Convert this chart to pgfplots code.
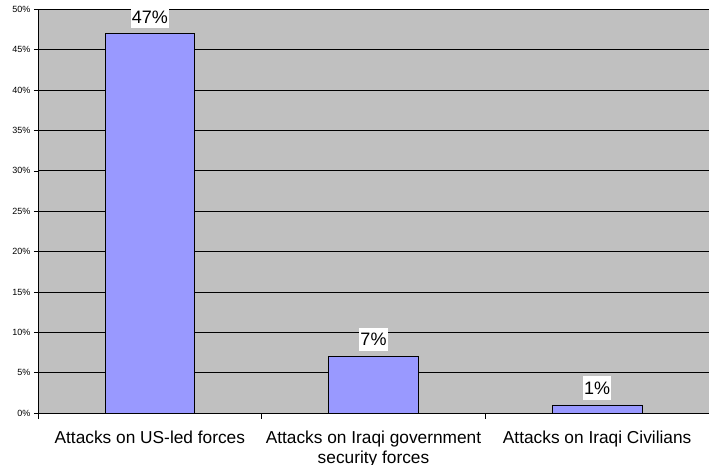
\documentclass[border=0pt]{standalone}
\usepackage{fontspec}
\setmainfont{Liberation Sans}
\usepackage{pgfplots}
\pgfplotsset{compat=1.18}
\definecolor{barblue}{HTML}{9999FF}
\definecolor{plotgray}{HTML}{C0C0C0}
\begin{document}
\begin{tikzpicture}
\begin{axis}[
  scale only axis, width=671bp, height=403.5bp,
  xmin=-0.5, xmax=2.5, ymin=0, ymax=50,
  axis background/.style={fill=plotgray},
  axis x line*=bottom, axis y line*=left,
  axis line style={black, line width=0.75bp, -},
  ybar, bar width=0.4,
  /pgf/number format/assume math mode=true,
  ytick={0,5,...,50},
  yticklabel={\pgfmathprintnumber{\tick}\%},
  yticklabel style={font=\fontsize{9bp}{10bp}\selectfont},
  ymajorgrids, grid style={black, line width=0.8bp},
  tick align=outside, major tick length=4bp, minor tick length=6bp,
  tick style={black, line width=0.75bp},
  xtick={0,1,2},
  major x tick style={draw=none},
  minor xtick={-0.5,0.5,1.5,2.5},
  xticklabels={Attacks on US-led forces, {Attacks on Iraqi government\\security forces}, Attacks on Iraqi Civilians},
  xticklabel style={align=center, inner sep=0pt, anchor=north, yshift=-14bp,
    font=\fontsize{17.3bp}{20bp}\selectfont},
  nodes near coords={\pgfmathprintnumber{\pgfplotspointmeta}\%},
  every node near coord/.append style={font=\fontsize{18bp}{20bp}\selectfont, fill=white,
    inner xsep=1bp, inner ysep=0pt, text height=18.3bp, text depth=5.4bp, anchor=south, yshift=5bp},
]
\addplot[fill=barblue, draw=black, line width=0.6bp] coordinates {(0,47) (1,7) (2,1)};
\end{axis}
\pgfresetboundingbox
\path[use as bounding box] ([shift={(-38bp,-52bp)}]current axis.south west) rectangle ([shift={(0bp,9.5bp)}]current axis.north east);
\end{tikzpicture}
\end{document}
